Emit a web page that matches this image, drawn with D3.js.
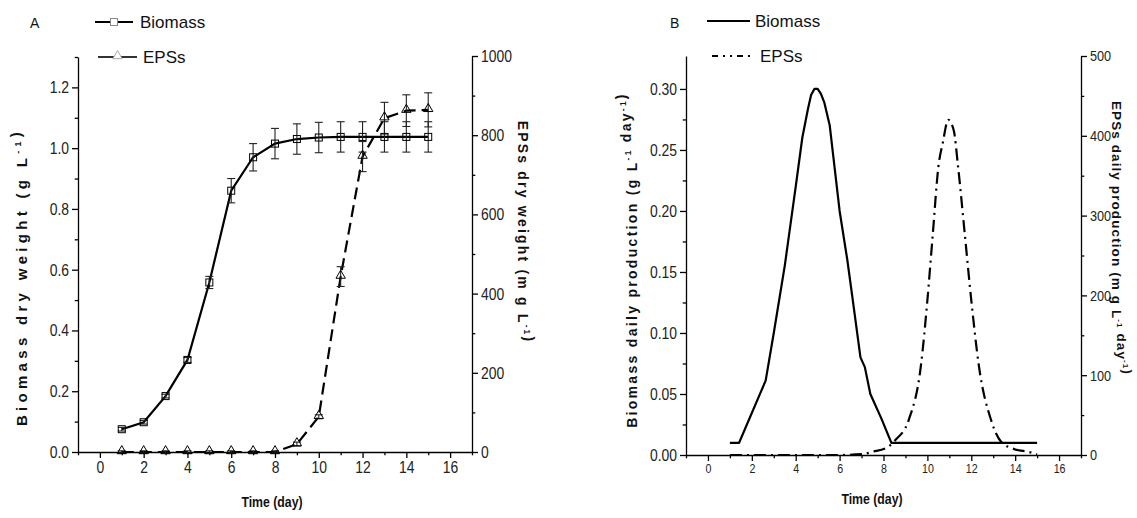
<!DOCTYPE html>
<html>
<head>
<meta charset="utf-8">
<script src="https://cdn.jsdelivr.net/npm/d3@7"></script>
<style>
  body { margin: 0; background: #fff; }
  svg { font-family: "Liberation Sans", Arial, sans-serif; }
  .axis path, .axis line { stroke: #000; stroke-width: 1.3px; }
  .axis text { fill: #222; }
  .legend text, .panel-label { fill: #111; }
  .ytitle { font-weight: bold; fill: #111; }
</style>
</head>
<body>
<svg id="chart" width="1137" height="518"></svg>
<script>
// panel A: dry weights
const days = [1, 2, 3, 4, 5, 6, 7, 8, 9, 10, 11, 12, 13, 14, 15];
const biomass = [0.075, 0.098, 0.184, 0.303, 0.558, 0.86, 0.97, 1.015, 1.03, 1.035, 1.037, 1.037, 1.037, 1.037, 1.037];
const biomassErr = [0.006, 0.006, 0.006, 0.008, 0.02, 0.04, 0.045, 0.05, 0.05, 0.05, 0.05, 0.05, 0.05, 0.05, 0.05];
const eps = [0, 0, 0, 0, 0, 0, 0, 0, 20, 89, 443, 746, 843, 862, 864];
const epsErr = [3, 3, 3, 3, 3, 3, 3, 3, 5, 5, 25, 38, 40, 40, 43];

// panel B: daily production curves
const bioDailyDay = [1, 1.42, 2.63, 3, 3.5, 4, 4.3, 4.55, 4.7, 4.85, 5.0, 5.15, 5.3, 5.55, 6, 6.35, 6.6, 6.95, 7.15, 7.4, 7.9, 8.36, 15];
const bioDailyVal = [0.01, 0.01, 0.061, 0.10, 0.155, 0.22, 0.26, 0.283, 0.295, 0.30, 0.30, 0.296, 0.289, 0.27, 0.20, 0.16, 0.127, 0.08, 0.072, 0.05, 0.03, 0.01, 0.01];
const epsDailyDay = [1, 6, 7, 7.5, 8.2, 8.55, 9.15, 9.7, 10, 10.25, 10.5, 10.7, 10.95, 11.2, 11.4, 11.7, 12, 12.35, 12.9, 13.35, 14, 14.6, 15];
const epsDailyVal = [0, 0, 1, 4, 10, 19, 44, 111, 194, 278, 361, 391, 420, 407, 361, 278, 194, 111, 44, 17, 7, 4, 1];

// ticks
const xMajor = [0, 2, 4, 6, 8, 10, 12, 14, 16];
const xMinor = [-1, 1, 3, 5, 7, 9, 11, 13, 15, 17];
const aLeftMajor = [0, 0.2, 0.4, 0.6, 0.8, 1.0, 1.2];
const aLeftMinor = [0.1, 0.3, 0.5, 0.7, 0.9, 1.1, 1.3];
const aRightMajor = [0, 200, 400, 600, 800, 1000];
const aRightMinor = [100, 300, 500, 700, 900];
const bLeftMajor = [0, 0.05, 0.10, 0.15, 0.20, 0.25, 0.30];
const bLeftMinor = [0.025, 0.075, 0.125, 0.175, 0.225, 0.275];
const bRightMajor = [0, 100, 200, 300, 400, 500];
const bRightMinor = [50, 150, 250, 350, 450];

const NARROW = 0.82; // squeeze to mimic the narrow face of the original
const svg = d3.select("#chart");

function axis(g, gen, majors, minors, fmt, size, len) {
  g.attr("class", "axis")
    .call(gen.tickValues(majors).tickFormat(fmt).tickSize(len).tickSizeOuter(0).tickPadding(3))
    .call(s => s.selectAll(".tick text")
      .style("font-size", size + "px")
      .attr("x", function() { return (+d3.select(this).attr("x") || 0) / NARROW; })
      .attr("transform", `scale(${NARROW},1)`));
  const m = g.append("g").call(gen.tickValues(minors).tickFormat("").tickSize(len * 0.55));
  m.select(".domain").remove();
}

function title(g, x, y, rot, parts, size, spacing) {
  const t = g.append("text").attr("class", "ytitle")
    .attr("transform", `translate(${x},${y}) rotate(${rot})`)
    .attr("text-anchor", "middle")
    .style("font-size", size + "px")
    .style("letter-spacing", spacing + "px");
  parts.forEach(p => {
    if (p.sup) {
      t.append("tspan").attr("dy", -size * 0.4).style("font-size", (size * 0.6) + "px").text(p.sup);
      t.append("tspan").attr("dy", size * 0.4).text("");
    } else t.append("tspan").text(p.t);
  });
}

function xTitle(g, x, y) {
  g.append("text").attr("transform", `translate(${x},${y}) scale(${NARROW},1)`)
    .attr("text-anchor", "middle")
    .style("font-size", "15px").style("font-weight", "bold").attr("fill", "#111").text("Time (day)");
}

// ---------- Panel A ----------
const xA = d3.scaleLinear().domain([-1, 17]).range([78, 472]);
const yA = d3.scaleLinear().domain([0, 1.3]).range([452, 57]);
const yA2 = d3.scaleLinear().domain([0, 1000]).range([452, 56]);

const gA = svg.append("g");
axis(gA.append("g").attr("transform", "translate(0,452)"), d3.axisBottom(xA), xMajor, xMinor, d3.format("d"), 17, 6);
axis(gA.append("g").attr("transform", "translate(78,0)"), d3.axisLeft(yA), aLeftMajor, aLeftMinor, d3.format(".1f"), 17, 6);
axis(gA.append("g").attr("transform", "translate(472,0)"), d3.axisRight(yA2), aRightMajor, aRightMinor, d3.format("d"), 17, 6);

xTitle(gA, 272, 507);
title(gA, 27, 277, -90, [{t: "Biomass dry weight (g L"}, {sup: "-1"}, {t: ")"}], 15, 4.3);
title(gA, 518, 232, 90, [{t: "EPSs dry weight (m g L"}, {sup: "-1"}, {t: ")"}], 14, 2.2);

const lineA = d3.line().x(d => xA(d[0])).y(d => d[1]);
gA.append("path")
  .attr("d", lineA(days.map((d, i) => [d, yA2(eps[i])])))
  .attr("fill", "none").attr("stroke", "#000").attr("stroke-width", 2.2).attr("stroke-dasharray", "12,6");
gA.append("path")
  .attr("d", lineA(days.map((d, i) => [d, yA(biomass[i])])))
  .attr("fill", "none").attr("stroke", "#000").attr("stroke-width", 2.2);

function errBars(g, vals, errs, y) {
  const eb = g.append("g").attr("stroke", "#222").attr("stroke-width", 1.1);
  days.forEach((d, i) => {
    const x = xA(d), y0 = y(vals[i] - errs[i]), y1 = y(vals[i] + errs[i]);
    eb.append("line").attr("x1", x).attr("x2", x).attr("y1", y0).attr("y2", y1);
    eb.append("line").attr("x1", x - 4).attr("x2", x + 4).attr("y1", y0).attr("y2", y0);
    eb.append("line").attr("x1", x - 4).attr("x2", x + 4).attr("y1", y1).attr("y2", y1);
  });
}
errBars(gA, biomass, biomassErr, yA);
errBars(gA, eps, epsErr, yA2);

const tri = d3.symbol().type(d3.symbolTriangle).size(38);
gA.selectAll(".tri").data(days).join("path").attr("class", "tri")
  .attr("transform", (d, i) => `translate(${xA(d)},${yA2(eps[i]) - 1})`)
  .attr("d", tri).attr("fill", "none").attr("stroke", "#000").attr("stroke-width", 1);
gA.selectAll(".sq").data(days).join("rect").attr("class", "sq")
  .attr("x", d => xA(d) - 3.5).attr("y", (d, i) => yA(biomass[i]) - 3.5)
  .attr("width", 7).attr("height", 7).attr("fill", "none").attr("stroke", "#000").attr("stroke-width", 1);

// legend A
gA.append("text").attr("class", "panel-label").attr("x", 30).attr("y", 28).style("font-size", "14px").text("A");
const legA = gA.append("g").attr("class", "legend");
legA.append("line").attr("x1", 95).attr("x2", 133).attr("y1", 22).attr("y2", 22).attr("stroke", "#000").attr("stroke-width", 2);
legA.append("rect").attr("x", 110.5).attr("y", 18.5).attr("width", 7).attr("height", 7).attr("fill", "#fff").attr("stroke", "#888");
legA.append("text").attr("x", 140).attr("y", 28).style("font-size", "17px").text("Biomass");
legA.append("line").attr("x1", 98).attr("x2", 137).attr("y1", 57).attr("y2", 57).attr("stroke", "#333").attr("stroke-width", 2);
legA.append("path").attr("transform", "translate(117.5,56)").attr("d", tri).attr("fill", "#fff").attr("stroke", "#aaa");
legA.append("text").attr("x", 143).attr("y", 63).style("font-size", "17px").text("EPSs");

// ---------- Panel B ----------
const xB = d3.scaleLinear().domain([-1, 17]).range([686, 1081]);
const yB = d3.scaleLinear().domain([0, 0.327]).range([455, 56]);
const yB2 = d3.scaleLinear().domain([0, 500]).range([455, 56]);

const gB = svg.append("g");
axis(gB.append("g").attr("transform", "translate(0,455)"), d3.axisBottom(xB), xMajor, xMinor, d3.format("d"), 13, 6);
axis(gB.append("g").attr("transform", "translate(686,0)"), d3.axisLeft(yB), bLeftMajor, bLeftMinor, d3.format(".2f"), 17, 6);
axis(gB.append("g").attr("transform", "translate(1081,0)"), d3.axisRight(yB2), bRightMajor, bRightMinor, d3.format("d"), 15.5, 6);

xTitle(gB, 872, 504);
title(gB, 637, 260, -90, [{t: "Biomass daily production (g L"}, {sup: "-1"}, {t: " day"}, {sup: "-1"}, {t: ")"}], 14, 2.3);
title(gB, 1112, 238, 90, [{t: "EPSs daily production (m g L"}, {sup: "-1"}, {t: " day"}, {sup: "-1"}, {t: ")"}], 13.5, 1.1);

const curve = d3.line();
gB.append("path")
  .attr("d", curve.curve(d3.curveMonotoneX)(epsDailyDay.map((d, i) => [xB(d), yB2(epsDailyVal[i])])))
  .attr("fill", "none").attr("stroke", "#000").attr("stroke-width", 2.2).attr("stroke-dasharray", "12,5,2,5");
gB.append("path")
  .attr("d", d3.line()(bioDailyDay.map((d, i) => [xB(d), yB(bioDailyVal[i])])))
  .attr("fill", "none").attr("stroke", "#000").attr("stroke-width", 2.2).attr("stroke-linejoin", "round");

// legend B
gB.append("text").attr("class", "panel-label").attr("x", 670).attr("y", 28).style("font-size", "14px").text("B");
const legB = gB.append("g").attr("class", "legend");
legB.append("line").attr("x1", 707).attr("x2", 750).attr("y1", 21).attr("y2", 21).attr("stroke", "#000").attr("stroke-width", 2);
legB.append("text").attr("x", 755).attr("y", 27).style("font-size", "17px").text("Biomass");
legB.append("line").attr("x1", 712).attr("x2", 752).attr("y1", 56).attr("y2", 56).attr("stroke", "#000").attr("stroke-width", 2).attr("stroke-dasharray", "6,5,2,5,2,5");
legB.append("text").attr("x", 760).attr("y", 62).style("font-size", "17px").text("EPSs");
</script>
</body>
</html>
